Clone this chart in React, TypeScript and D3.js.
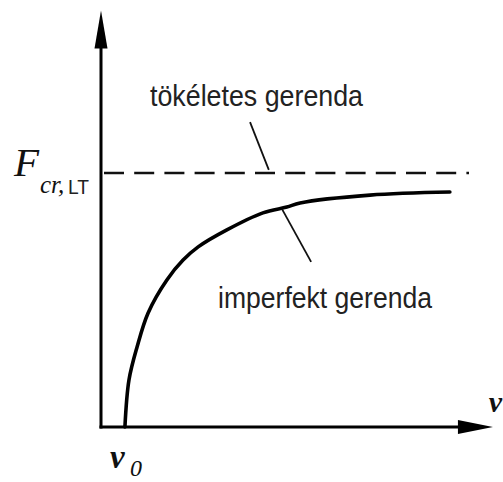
import React from 'react';
import * as d3 from 'd3';

const W = 503;
const H = 482;

// Load–deflection curve of the imperfect beam (deflection v, load as fraction of F_cr,LT)
const deflection = [6.5, 7.6, 9.8, 12.8, 17.9, 22.3, 26.4, 34.2, 44.0, 50.5, 54.1, 73.1, 94.8];
const load = [0, 0.185, 0.315, 0.449, 0.579, 0.657, 0.709, 0.776, 0.843, 0.866, 0.882, 0.913, 0.925];

// Critical load of the perfect beam
const criticalLoad = 1;
const dashEnd = 100;

// Axis extents in data units
const xAxisMax = 106.5;
const yAxisMax = 1.64;

// Leader lines [from, to] as [v, F]
const perfectLeader: [number, number][] = [[40.5, 1.2], [45.6, 1.012]];
const imperfectLeader: [number, number][] = [[49.2, 0.858], [57.1, 0.65]];

const perfectLabel = 'tökéletes gerenda';
const imperfectLabel = 'imperfekt gerenda';

const x = d3.scaleLinear().domain([0, 100]).range([101, 469]);
const y = d3.scaleLinear().domain([0, 1]).range([427, 173]);

const sans = '"Liberation Sans", Arial, sans-serif';
const serif = '"Liberation Serif", "Times New Roman", serif';

export default function App() {
  const pts = deflection.map((v, i) => [x(v), y(load[i])] as [number, number]);
  const curve = d3.line().curve(d3.curveCatmullRom.alpha(0.5))(pts) || '';
  const leader = d3.line();

  const ox = x(0);
  const oy = y(0);
  const xTip = x(xAxisMax);
  const yTip = y(yAxisMax);

  return (
    <svg
      width={W}
      height={H}
      viewBox={`0 0 ${W} ${H}`}
      style={{ position: 'absolute', left: 0, top: 0, background: '#fff' }}
    >
      <rect width={W} height={H} fill="#fff" />

      {/* axes */}
      <line x1={ox} y1={oy + 1.5} x2={ox} y2={yTip + 30} stroke="#000" strokeWidth={3} />
      <line x1={ox - 1.5} y1={oy} x2={xTip - 28} y2={oy} stroke="#000" strokeWidth={3.2} />
      <path d={`M${ox},${yTip} L${ox - 6.5},${yTip + 38} L${ox + 6.5},${yTip + 38} Z`} fill="#000" />
      <path d={`M${xTip},${oy} L${xTip - 35},${oy - 7} L${xTip - 35},${oy + 7} Z`} fill="#000" />

      {/* perfect beam: critical load level */}
      <line
        x1={ox + 3}
        y1={y(criticalLoad)}
        x2={x(dashEnd)}
        y2={y(criticalLoad)}
        stroke="#111"
        strokeWidth={2.6}
        strokeDasharray="20 10.2"
      />

      {/* imperfect beam curve */}
      <path d={curve} fill="none" stroke="#000" strokeWidth={3.6} strokeLinecap="round" />

      {/* leaders */}
      <path
        d={leader(perfectLeader.map(([v, f]) => [x(v), y(f)] as [number, number])) || ''}
        stroke="#111"
        strokeWidth={1.8}
        fill="none"
      />
      <path
        d={leader(imperfectLeader.map(([v, f]) => [x(v), y(f)] as [number, number])) || ''}
        stroke="#111"
        strokeWidth={1.8}
        fill="none"
      />

      {/* labels */}
      <text x={150} y={106} fontFamily={sans} fontSize={29} fill="#222" textLength={213} lengthAdjust="spacingAndGlyphs">
        {perfectLabel}
      </text>
      <text x={218} y={308} fontFamily={sans} fontSize={29} fill="#222" textLength={214} lengthAdjust="spacingAndGlyphs">
        {imperfectLabel}
      </text>

      {/* F_cr,LT */}
      <text x={14} y={176} fontFamily={serif} fontStyle="italic" fontSize={41} fill="#111">
        F
      </text>
      <text x={40} y={193} fontFamily={serif} fontStyle="italic" fontSize={25} fill="#111">
        cr,
      </text>
      <text x={68} y={194} fontFamily={sans} fontSize={21} fill="#222" textLength={21} lengthAdjust="spacingAndGlyphs">
        LT
      </text>

      {/* v_0 */}
      <text x={110} y={468} fontFamily={serif} fontStyle="italic" fontWeight="bold" fontSize={33} fill="#111">
        v
      </text>
      <text x={130} y={476} fontFamily={serif} fontStyle="italic" fontSize={24} fill="#111">
        0
      </text>

      {/* horizontal axis label at the right edge */}
      <text x={502} y={412} textAnchor="end" fontFamily={serif} fontStyle="italic" fontWeight="bold" fontSize={30} fill="#111">
        v
      </text>
    </svg>
  );
}
